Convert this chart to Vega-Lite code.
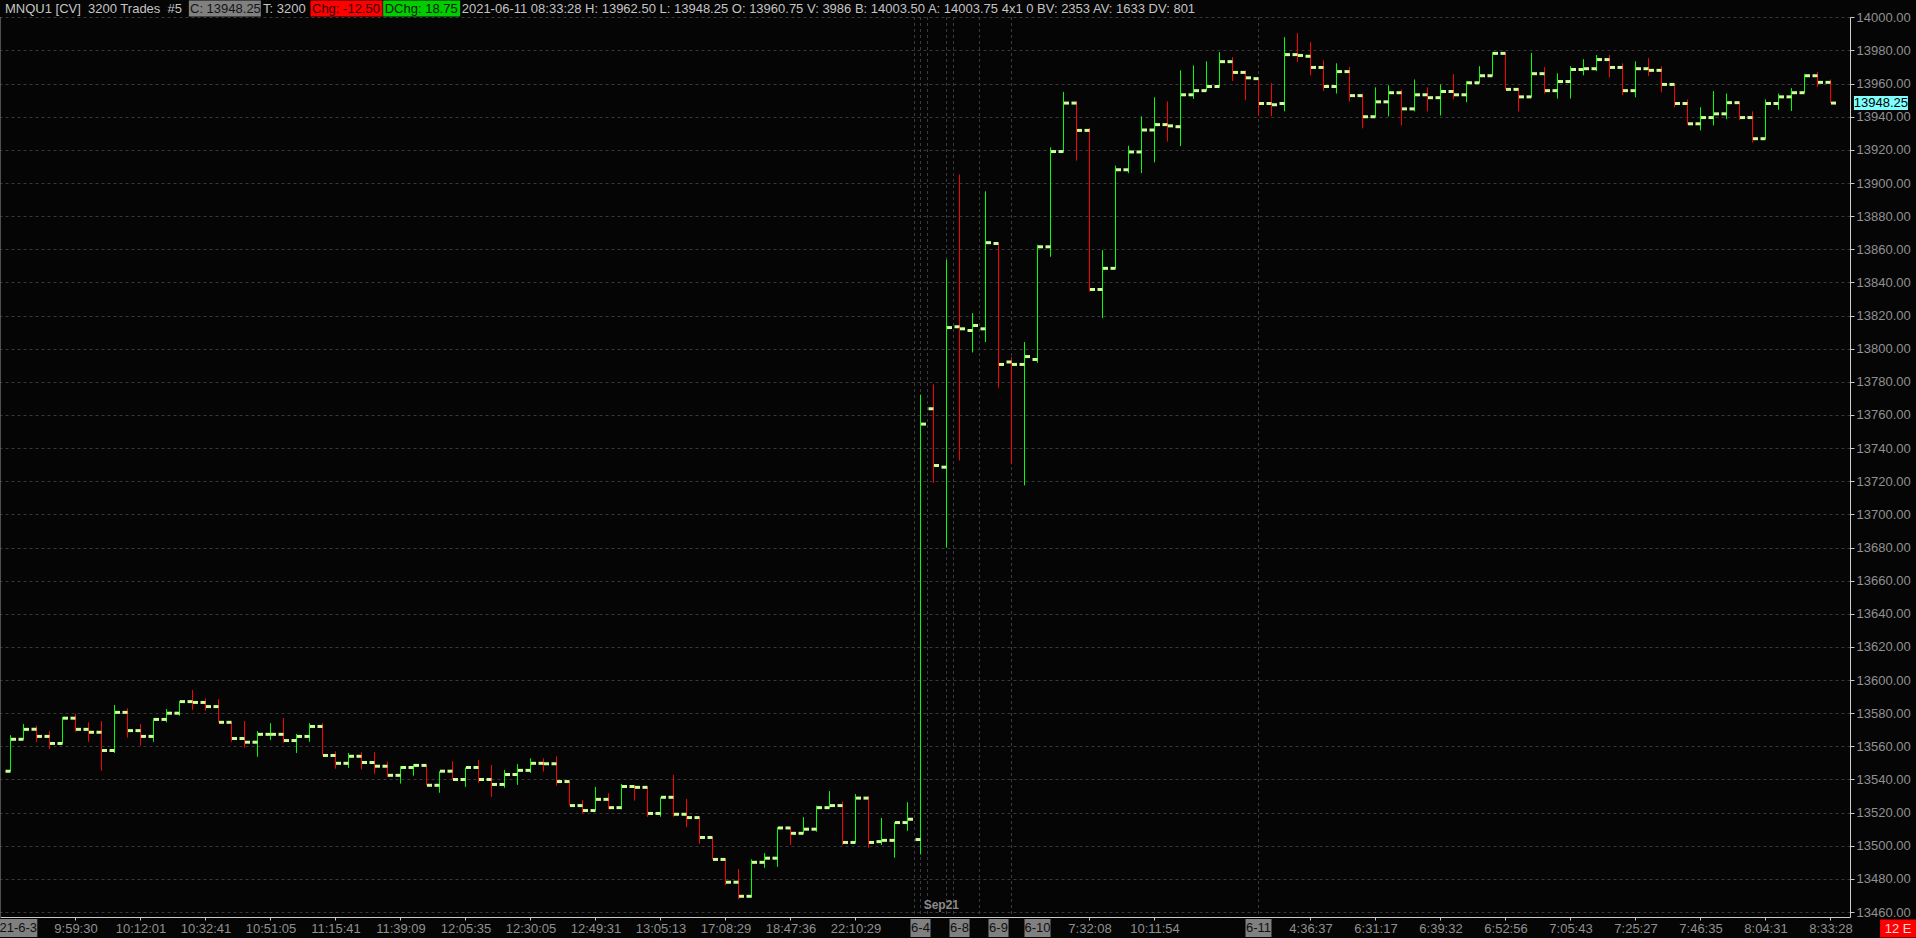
{
  "$schema": "https://vega.github.io/schema/vega-lite/v6.json",
  "width": 1850,
  "height": 900,
  "autosize": {"type": "none"},
  "padding": {"top": 17, "left": 0, "right": 66, "bottom": 21},
  "background": "#050505",
  "config": {"view": {"stroke": null}, "text": {"font": "Liberation Sans", "fontSize": 13, "baseline": "middle"}},
  "datasets": {
    "one": [{"k": 1}],
    "bars": [
      {"i":0,"o":13545,"h":13566.75,"l":13545,"c":13564.25},
      {"i":1,"o":13564.25,"h":13573.5,"l":13564.25,"c":13570.25},
      {"i":2,"o":13570.25,"h":13572.5,"l":13562.75,"c":13566},
      {"i":3,"o":13566,"h":13569.25,"l":13558.25,"c":13561.75},
      {"i":4,"o":13561.75,"h":13577.75,"l":13561.75,"c":13577},
      {"i":5,"o":13577,"h":13579.75,"l":13568.75,"c":13570.25},
      {"i":6,"o":13570.25,"h":13574.5,"l":13562.75,"c":13568.5},
      {"i":7,"o":13568.5,"h":13575.25,"l":13545.25,"c":13557.5},
      {"i":8,"o":13557.5,"h":13585,"l":13556,"c":13580.5},
      {"i":9,"o":13580.5,"h":13583,"l":13565.25,"c":13569.5},
      {"i":10,"o":13569.5,"h":13573.5,"l":13560.5,"c":13566},
      {"i":11,"o":13566,"h":13577,"l":13562.75,"c":13576.25},
      {"i":12,"o":13576.25,"h":13582.5,"l":13574.5,"c":13580},
      {"i":13,"o":13580,"h":13587.5,"l":13578.5,"c":13587},
      {"i":14,"o":13587,"h":13594,"l":13582,"c":13586.5},
      {"i":15,"o":13586.5,"h":13589,"l":13581.5,"c":13584},
      {"i":16,"o":13584,"h":13588.5,"l":13574.5,"c":13574.5},
      {"i":17,"o":13574.5,"h":13574.5,"l":13562.75,"c":13564.75},
      {"i":18,"o":13564.75,"h":13575.25,"l":13559.25,"c":13562.5},
      {"i":19,"o":13562.5,"h":13569.25,"l":13553.75,"c":13567.25},
      {"i":20,"o":13567.25,"h":13574,"l":13563.75,"c":13567.25},
      {"i":21,"o":13567.25,"h":13577,"l":13562.25,"c":13563.5},
      {"i":22,"o":13563.5,"h":13567.5,"l":13556,"c":13566},
      {"i":23,"o":13566,"h":13574,"l":13562.75,"c":13572},
      {"i":24,"o":13572,"h":13574,"l":13554.5,"c":13554.5},
      {"i":25,"o":13554.5,"h":13557,"l":13546.5,"c":13549.75},
      {"i":26,"o":13549.75,"h":13556,"l":13547,"c":13554},
      {"i":27,"o":13554,"h":13556.5,"l":13546,"c":13550.25},
      {"i":28,"o":13550.25,"h":13556.5,"l":13543.5,"c":13548},
      {"i":29,"o":13548,"h":13550.75,"l":13541.5,"c":13542.5},
      {"i":30,"o":13542.5,"h":13548,"l":13537.5,"c":13547.25},
      {"i":31,"o":13547.25,"h":13549.25,"l":13542.25,"c":13548.5},
      {"i":32,"o":13548.5,"h":13548.5,"l":13536.5,"c":13536.5},
      {"i":33,"o":13536.5,"h":13545,"l":13532,"c":13545},
      {"i":34,"o":13545,"h":13551,"l":13540,"c":13540},
      {"i":35,"o":13540,"h":13547.25,"l":13535.5,"c":13547.25},
      {"i":36,"o":13547.25,"h":13551.75,"l":13538,"c":13540},
      {"i":37,"o":13540,"h":13548.75,"l":13529.5,"c":13537},
      {"i":38,"o":13537,"h":13545.75,"l":13535,"c":13543},
      {"i":39,"o":13543,"h":13549.25,"l":13536.75,"c":13545.5},
      {"i":40,"o":13545.5,"h":13552.75,"l":13544,"c":13549.75},
      {"i":41,"o":13549.75,"h":13552.75,"l":13544.75,"c":13549.5},
      {"i":42,"o":13549.5,"h":13554,"l":13536.25,"c":13538.75},
      {"i":43,"o":13538.75,"h":13538.75,"l":13524.25,"c":13524.25},
      {"i":44,"o":13524.25,"h":13527.5,"l":13519.5,"c":13521.25},
      {"i":45,"o":13521.25,"h":13535.5,"l":13521.25,"c":13528},
      {"i":46,"o":13528,"h":13531.75,"l":13522,"c":13523},
      {"i":47,"o":13523,"h":13537.25,"l":13522,"c":13535.75},
      {"i":48,"o":13535.75,"h":13535.75,"l":13527.25,"c":13535.25},
      {"i":49,"o":13535.25,"h":13535.25,"l":13517.5,"c":13519.5},
      {"i":50,"o":13519.5,"h":13529.25,"l":13517.5,"c":13529.25},
      {"i":51,"o":13529.25,"h":13542.75,"l":13517.5,"c":13519},
      {"i":52,"o":13519,"h":13528.25,"l":13511.25,"c":13517},
      {"i":53,"o":13517,"h":13517,"l":13501.25,"c":13505},
      {"i":54,"o":13505,"h":13505,"l":13491.75,"c":13491.75},
      {"i":55,"o":13491.75,"h":13491.75,"l":13476.25,"c":13478},
      {"i":56,"o":13478,"h":13486,"l":13467.75,"c":13469.5},
      {"i":57,"o":13469.5,"h":13491.75,"l":13468.75,"c":13490},
      {"i":58,"o":13490,"h":13495.5,"l":13486.75,"c":13492.5},
      {"i":59,"o":13492.5,"h":13511.25,"l":13487.25,"c":13510.75},
      {"i":60,"o":13510.75,"h":13510.75,"l":13500.5,"c":13507.5},
      {"i":61,"o":13507.5,"h":13517.25,"l":13507.5,"c":13510},
      {"i":62,"o":13510,"h":13524.25,"l":13508.5,"c":13523},
      {"i":63,"o":13523,"h":13533,"l":13523,"c":13524.25},
      {"i":64,"o":13524.25,"h":13526.75,"l":13500.5,"c":13502},
      {"i":65,"o":13502,"h":13531.25,"l":13502,"c":13528.75},
      {"i":66,"o":13528.75,"h":13530,"l":13498.75,"c":13502},
      {"i":67,"o":13502.5,"h":13516.75,"l":13500.5,"c":13503.25},
      {"i":68,"o":13503.25,"h":13514.25,"l":13492.75,"c":13514},
      {"i":69,"o":13514,"h":13526.25,"l":13509,"c":13516},
      {"i":70,"o":13503.75,"h":13772.25,"l":13494.75,"c":13754.5},
      {"i":71,"o":13763.75,"h":13778.5,"l":13719,"c":13729.5},
      {"i":72,"o":13728.5,"h":13853.75,"l":13680,"c":13812.75},
      {"i":73,"o":13813.25,"h":13905.25,"l":13732.5,"c":13812},
      {"i":74,"o":13811,"h":13821.5,"l":13797.75,"c":13814},
      {"i":75,"o":13812,"h":13895,"l":13804,"c":13864},
      {"i":76,"o":13863.5,"h":13863.5,"l":13776.5,"c":13790.5},
      {"i":77,"o":13792,"h":13795,"l":13730.25,"c":13790.5},
      {"i":78,"o":13790.5,"h":13804,"l":13717.5,"c":13795.25},
      {"i":79,"o":13793.5,"h":13862.75,"l":13791.5,"c":13861.5},
      {"i":80,"o":13861.5,"h":13921.5,"l":13855.5,"c":13919},
      {"i":81,"o":13919,"h":13955,"l":13919,"c":13948.25},
      {"i":82,"o":13948.25,"h":13949.25,"l":13913.5,"c":13931.75},
      {"i":83,"o":13931.75,"h":13933.25,"l":13834.5,"c":13835.75},
      {"i":84,"o":13835.75,"h":13859.5,"l":13818.5,"c":13848.5},
      {"i":85,"o":13848.5,"h":13910.5,"l":13848.5,"c":13908},
      {"i":86,"o":13908,"h":13922.5,"l":13906,"c":13918.75},
      {"i":87,"o":13918.75,"h":13940.25,"l":13906,"c":13932},
      {"i":88,"o":13932,"h":13951.75,"l":13912.5,"c":13935.25},
      {"i":89,"o":13935.25,"h":13949.25,"l":13925,"c":13934.5},
      {"i":90,"o":13934,"h":13968,"l":13922.25,"c":13953.25},
      {"i":91,"o":13953.25,"h":13971,"l":13950.75,"c":13955.75},
      {"i":92,"o":13955.75,"h":13973.5,"l":13955.75,"c":13958.25},
      {"i":93,"o":13958.25,"h":13979,"l":13958.25,"c":13973.25},
      {"i":94,"o":13973.25,"h":13976,"l":13961.5,"c":13966.75},
      {"i":95,"o":13966.75,"h":13968,"l":13950,"c":13963.5},
      {"i":96,"o":13963,"h":13963,"l":13940.75,"c":13948},
      {"i":97,"o":13948,"h":13960.25,"l":13940.25,"c":13947.25},
      {"i":98,"o":13948,"h":13988,"l":13943.25,"c":13977.5},
      {"i":99,"o":13977.5,"h":13990.5,"l":13973,"c":13977},
      {"i":100,"o":13976.5,"h":13985,"l":13965,"c":13969.75},
      {"i":101,"o":13969.75,"h":13974,"l":13955.5,"c":13958.25},
      {"i":102,"o":13958.25,"h":13972.25,"l":13954,"c":13967.25},
      {"i":103,"o":13967.25,"h":13970,"l":13949.25,"c":13952.75},
      {"i":104,"o":13952.75,"h":13954,"l":13933,"c":13940},
      {"i":105,"o":13940,"h":13957.75,"l":13940,"c":13949},
      {"i":106,"o":13949,"h":13959,"l":13940.25,"c":13954.5},
      {"i":107,"o":13954.5,"h":13956.5,"l":13934.75,"c":13944.75},
      {"i":108,"o":13944.75,"h":13962.5,"l":13943.25,"c":13953.25},
      {"i":109,"o":13953.25,"h":13957.75,"l":13943.25,"c":13951.5},
      {"i":110,"o":13951.5,"h":13959.5,"l":13940.75,"c":13955.25},
      {"i":111,"o":13955.25,"h":13965.75,"l":13950.5,"c":13953.25},
      {"i":112,"o":13953.25,"h":13961.5,"l":13948.75,"c":13960.5},
      {"i":113,"o":13960.5,"h":13970.5,"l":13960.5,"c":13964.75},
      {"i":114,"o":13964.75,"h":13979,"l":13964.75,"c":13978.25},
      {"i":115,"o":13978.25,"h":13978.25,"l":13956.5,"c":13956.5},
      {"i":116,"o":13956.5,"h":13957.5,"l":13943.25,"c":13952},
      {"i":117,"o":13952,"h":13978.5,"l":13952,"c":13966},
      {"i":118,"o":13966,"h":13970,"l":13954,"c":13955.75},
      {"i":119,"o":13955.75,"h":13966.25,"l":13951,"c":13961.25},
      {"i":120,"o":13961.25,"h":13970.5,"l":13951,"c":13968.5},
      {"i":121,"o":13968.5,"h":13974.75,"l":13965,"c":13969},
      {"i":122,"o":13969,"h":13977.25,"l":13967.5,"c":13974.5},
      {"i":123,"o":13974.5,"h":13977.25,"l":13963.75,"c":13969.75},
      {"i":124,"o":13969.75,"h":13972.25,"l":13953,"c":13955.75},
      {"i":125,"o":13955.75,"h":13973.5,"l":13951.75,"c":13969},
      {"i":126,"o":13969,"h":13975.5,"l":13964.5,"c":13968},
      {"i":127,"o":13968,"h":13970.5,"l":13954.75,"c":13959.5},
      {"i":128,"o":13959.5,"h":13959.5,"l":13945.75,"c":13948},
      {"i":129,"o":13948,"h":13950.5,"l":13935.25,"c":13935.75},
      {"i":130,"o":13935.75,"h":13945.75,"l":13931.75,"c":13939.5},
      {"i":131,"o":13939.5,"h":13955.5,"l":13934.75,"c":13941.75},
      {"i":132,"o":13941.75,"h":13954,"l":13938.5,"c":13948.5},
      {"i":133,"o":13948.5,"h":13948.5,"l":13938,"c":13939.5},
      {"i":134,"o":13939.5,"h":13943.25,"l":13924.5,"c":13926.75},
      {"i":135,"o":13926.75,"h":13950.5,"l":13926.75,"c":13948},
      {"i":136,"o":13948,"h":13954,"l":13944.25,"c":13952},
      {"i":137,"o":13952,"h":13957.25,"l":13943.5,"c":13954.5},
      {"i":138,"o":13954.5,"h":13965.75,"l":13954.5,"c":13964.75},
      {"i":139,"o":13964.75,"h":13967,"l":13958,"c":13960.75},
      {"i":140,"o":13960.75,"h":13962.5,"l":13948.25,"c":13948.25}
    ],
    "seps": [{"i":69.54},{"i":70},{"i":70.54},{"i":72},{"i":72.54},{"i":74.54},{"i":77},{"i":96}],
    "dates": [
      {"i":0.6,"t":"21-6-3"},
      {"i":70,"t":"6-4"},
      {"i":73,"t":"6-8"},
      {"i":76,"t":"6-9"},
      {"i":79,"t":"6-10"},
      {"i":96,"t":"6-11"}
    ]
  },
  "layer": [
    {
      "data": {"name": "seps"},
      "mark": {"type": "rule", "color": "#3c3c3c", "strokeDash": [3, 3], "strokeWidth": 1},
      "encoding": {"x": {"field": "i", "type": "quantitative", "title": null}}
    },
    {
      "data": {"name": "one"},
      "mark": {"type": "rule", "color": "#9a9a9a", "strokeWidth": 1},
      "encoding": {"x": {"datum": -0.80769, "type": "quantitative", "title": null}}
    },
    {
      "data": {"name": "bars"},
      "mark": {"type": "rule", "strokeWidth": 1},
      "encoding": {
        "x": {
          "field": "i", "type": "quantitative", "title": null,
          "scale": {"domain": [-0.80769, 141.5], "nice": false, "zero": false},
          "axis": {
            "orient": "bottom",
            "values": [5,10,15,20,25,30,35,40,45,50,55,60,65,83,88,100,105,110,115,120,125,130,135,140],
            "tickCount": 60,
            "labelExpr": "['9:59:30','10:12:01','10:32:41','10:51:05','11:15:41','11:39:09','12:05:35','12:30:05','12:49:31','13:05:13','17:08:29','18:47:36','22:10:29','7:32:08','10:11:54','4:36:37','6:31:17','6:39:32','6:52:56','7:05:43','7:25:27','7:46:35','8:04:31','8:33:28'][indexof([5,10,15,20,25,30,35,40,45,50,55,60,65,83,88,100,105,110,115,120,125,130,135,140], datum.value)]",
            "labelColor": "#909090",
            "labelFont": "Liberation Sans",
            "labelFontSize": 13,
            "labelFlush": false,
            "labelOverlap": false,
            "labelPadding": 2,
            "tickColor": "#c8c8c8",
            "tickSize": 3,
            "domainColor": "#c8c8c8",
            "domainWidth": 1,
            "grid": false,
            "title": null
          }
        },
        "y": {
          "field": "l", "type": "quantitative", "title": null,
          "scale": {"domain": [13457, 14000.2], "nice": false, "zero": false},
          "axis": {
            "orient": "right",
            "values": [13460,13480,13500,13520,13540,13560,13580,13600,13620,13640,13660,13680,13700,13720,13740,13760,13780,13800,13820,13840,13860,13880,13900,13920,13940,13960,13980,14000],
            "tickCount": 40,
            "format": ".2f",
            "labelColor": "#909090",
            "labelFont": "Liberation Sans",
            "labelFontSize": 13,
            "labelPadding": 2,
            "labelOverlap": false,
            "labelBound": false,
            "tickColor": "#c8c8c8",
            "tickSize": 4,
            "domainColor": "#d0d0d0",
            "domainWidth": 1,
            "grid": true,
            "gridColor": "#383838",
            "gridDash": [3, 3],
            "gridWidth": 1,
            "title": null
          }
        },
        "y2": {"field": "h"},
        "color": {"condition": {"test": "datum.c >= datum.o", "value": "#00ff00"}, "value": "#ff0000"}
      }
    },
    {
      "data": {"name": "bars"},
      "mark": {"type": "tick", "orient": "horizontal", "size": 5, "thickness": 3, "xOffset": -2.5, "color": "#ccff99", "opacity": 1},
      "encoding": {
        "x": {"field": "i", "type": "quantitative", "title": null},
        "y": {"field": "o", "type": "quantitative", "title": null}
      }
    },
    {
      "data": {"name": "bars"},
      "mark": {"type": "tick", "orient": "horizontal", "size": 5, "thickness": 3, "xOffset": 3, "color": "#ccff99", "opacity": 1},
      "encoding": {
        "x": {"field": "i", "type": "quantitative", "title": null},
        "y": {"field": "c", "type": "quantitative", "title": null}
      }
    },
    {
      "data": {"name": "one"},
      "mark": {"type": "text", "fontSize": 12, "fontWeight": "bold", "color": "#8a8a8a", "align": "center"},
      "encoding": {
        "x": {"datum": 71.6, "type": "quantitative", "title": null},
        "y": {"datum": 13464.2, "type": "quantitative", "title": null},
        "text": {"value": "Sep21"}
      }
    },
    {
      "data": {"name": "dates"},
      "mark": {"type": "tick", "orient": "horizontal", "thickness": 18, "color": "#808080", "opacity": 1},
      "encoding": {
        "x": {"field": "i", "type": "quantitative", "title": null},
        "y": {"datum": 13450.35, "type": "quantitative", "title": null},
        "size": {"condition": [{"test": "length(datum.t) > 5", "value": 38}, {"test": "length(datum.t) > 3", "value": 26}], "value": 20}
      }
    },
    {
      "data": {"name": "dates"},
      "mark": {"type": "text", "color": "#101010", "align": "center"},
      "encoding": {
        "x": {"field": "i", "type": "quantitative", "title": null},
        "y": {"datum": 13450.35, "type": "quantitative", "title": null},
        "text": {"field": "t"}
      }
    },
    {
      "data": {"name": "one"},
      "mark": {"type": "tick", "orient": "horizontal", "size": 72, "thickness": 16, "color": "#808080", "opacity": 1},
      "encoding": {
        "x": {"datum": 16.488, "type": "quantitative", "title": null},
        "y": {"datum": 14005.3, "type": "quantitative", "title": null}
      }
    },
    {
      "data": {"name": "one"},
      "mark": {"type": "tick", "orient": "horizontal", "size": 72, "thickness": 16, "color": "#ff0000", "opacity": 1},
      "encoding": {
        "x": {"datum": 25.846, "type": "quantitative", "title": null},
        "y": {"datum": 14005.3, "type": "quantitative", "title": null}
      }
    },
    {
      "data": {"name": "one"},
      "mark": {"type": "tick", "orient": "horizontal", "size": 77, "thickness": 16, "color": "#00cc00", "opacity": 1},
      "encoding": {
        "x": {"datum": 31.627, "type": "quantitative", "title": null},
        "y": {"datum": 14005.3, "type": "quantitative", "title": null}
      }
    },
    {
      "data": {"name": "one"},
      "mark": {"type": "text", "color": "#c4c4c4", "align": "left"},
      "encoding": {
        "x": {"datum": -0.423, "type": "quantitative", "title": null},
        "y": {"datum": 14005.3, "type": "quantitative", "title": null},
        "text": {"value": "MNQU1 [CV]\u00a0 3200 Trades\u00a0 #5"}
      }
    },
    {
      "data": {"name": "one"},
      "mark": {"type": "text", "color": "#141414", "align": "left"},
      "encoding": {
        "x": {"datum": 13.808, "type": "quantitative", "title": null},
        "y": {"datum": 14005.3, "type": "quantitative", "title": null},
        "text": {"value": "C: 13948.25"}
      }
    },
    {
      "data": {"name": "one"},
      "mark": {"type": "text", "color": "#c4c4c4", "align": "left"},
      "encoding": {
        "x": {"datum": 19.423, "type": "quantitative", "title": null},
        "y": {"datum": 14005.3, "type": "quantitative", "title": null},
        "text": {"value": "T: 3200"}
      }
    },
    {
      "data": {"name": "one"},
      "mark": {"type": "text", "color": "#300000", "align": "left"},
      "encoding": {
        "x": {"datum": 23.192, "type": "quantitative", "title": null},
        "y": {"datum": 14005.3, "type": "quantitative", "title": null},
        "text": {"value": "Chg: -12.50"}
      }
    },
    {
      "data": {"name": "one"},
      "mark": {"type": "text", "color": "#002000", "align": "left"},
      "encoding": {
        "x": {"datum": 28.785, "type": "quantitative", "title": null},
        "y": {"datum": 14005.3, "type": "quantitative", "title": null},
        "text": {"value": "DChg: 18.75"}
      }
    },
    {
      "data": {"name": "one"},
      "mark": {"type": "text", "color": "#c4c4c4", "align": "left"},
      "encoding": {
        "x": {"datum": 34.708, "type": "quantitative", "title": null},
        "y": {"datum": 14005.3, "type": "quantitative", "title": null},
        "text": {"value": "2021-06-11 08:33:28 H: 13962.50 L: 13948.25 O: 13960.75 V: 3986 B: 14003.50 A: 14003.75 4x1 0 BV: 2353 AV: 1633 DV: 801"}
      }
    },
    {
      "data": {"name": "bars"},
      "transform": [{"filter": "datum.i == 140"}],
      "mark": {"type": "tick", "orient": "horizontal", "size": 54, "thickness": 14, "color": "#80ffff", "opacity": 1},
      "encoding": {
        "x": {"datum": 143.88, "type": "quantitative", "title": null},
        "y": {"field": "c", "type": "quantitative", "title": null}
      }
    },
    {
      "data": {"name": "bars"},
      "transform": [{"filter": "datum.i == 140"}],
      "mark": {"type": "text", "color": "#000000", "align": "center"},
      "encoding": {
        "x": {"datum": 143.88, "type": "quantitative", "title": null},
        "y": {"field": "c", "type": "quantitative", "title": null},
        "text": {"field": "c", "type": "quantitative", "format": ".2f"}
      }
    },
    {
      "data": {"name": "one"},
      "mark": {"type": "tick", "orient": "horizontal", "size": 36, "thickness": 18, "color": "#ff0000", "opacity": 1},
      "encoding": {
        "x": {"datum": 145.2, "type": "quantitative", "title": null},
        "y": {"datum": 13450.0, "type": "quantitative", "title": null}
      }
    },
    {
      "data": {"name": "one"},
      "mark": {"type": "text", "color": "#ffd8d8", "align": "center"},
      "encoding": {
        "x": {"datum": 145.2, "type": "quantitative", "title": null},
        "y": {"datum": 13450.0, "type": "quantitative", "title": null},
        "text": {"value": "12 E"}
      }
    }
  ]
}
